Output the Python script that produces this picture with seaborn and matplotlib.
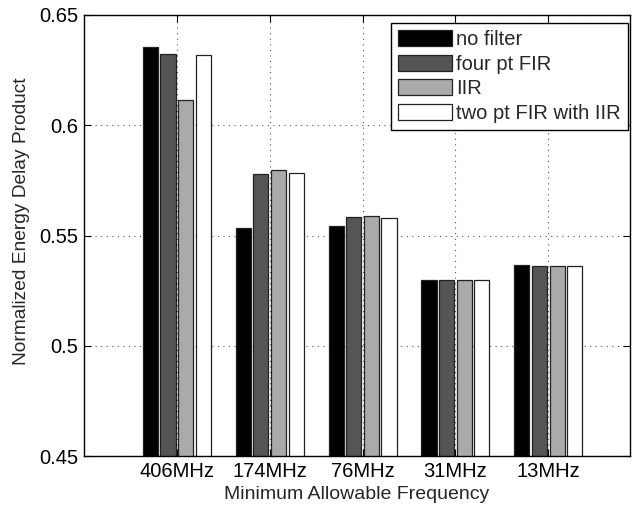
import matplotlib
matplotlib.use("Agg")
import matplotlib.pyplot as plt
import seaborn as sns
import pandas as pd

frequencies = ["406MHz", "174MHz", "76MHz", "31MHz", "13MHz"]
series_names = ["no filter", "four pt FIR", "IIR", "two pt FIR with IIR"]
no_filter = [0.6355, 0.5533, 0.5545, 0.5299, 0.5364]
four_pt_fir = [0.6323, 0.5778, 0.5585, 0.5299, 0.5360]
iir = [0.6113, 0.5795, 0.5590, 0.5299, 0.5360]
two_pt_fir_iir = [0.6318, 0.5783, 0.5578, 0.5299, 0.5360]
yticks = [0.45, 0.5, 0.55, 0.6, 0.65]
ytick_labels = ["0.45", "0.5", "0.55", "0.6", "0.65"]

rows = []
for name, vals in zip(series_names, [no_filter, four_pt_fir, iir, two_pt_fir_iir]):
    for f, v in zip(frequencies, vals):
        rows.append({"freq": f, "series": name, "value": v})
df = pd.DataFrame(rows)

FS = 14.5
sns.set_style("white")
plt.rcParams["font.family"] = ["Liberation Sans", "DejaVu Sans"]
plt.rcParams["font.size"] = FS

fig = plt.figure(figsize=(6.39, 5.08), dpi=100)
ax = fig.add_axes([84/639, 1-456/508, (630-84)/639, (456-15)/508])

palette = {"no filter": "#000000", "four pt FIR": "#555555",
           "IIR": "#aaaaaa", "two pt FIR with IIR": "#ffffff"}
sns.barplot(data=df, x="freq", y="value", hue="series", order=frequencies,
            hue_order=series_names, palette=palette, width=0.76, gap=0.14,
            edgecolor="#222222", linewidth=0.9, saturation=1, errorbar=None, ax=ax)

ax.set_ylim(0.45, 0.65)
ax.set_xlim(-1.0, 4.88)
ax.set_yticks(yticks)
ax.set_yticklabels(ytick_labels)
ax.set_xlabel("Minimum Allowable Frequency", labelpad=4, fontsize=14)
ax.set_ylabel("Normalized Energy Delay Product", labelpad=6.5, fontsize=13.8,
              y=(456-221)/441)

ax.set_axisbelow(True)
ax.grid(True, axis="both", linestyle=(0, (1, 4)), color="#555555", linewidth=0.8)
ax.tick_params(direction="in", length=5, width=0.8, top=True, right=True,
               bottom=True, left=True, colors="black", labelsize=FS, pad=4)
for s in ax.spines.values():
    s.set_visible(True)
    s.set_color("black")
    s.set_linewidth(1.0)

handles, labels = ax.get_legend_handles_labels()
leg = ax.legend(handles, labels, loc="upper right",
                bbox_to_anchor=((628-84)/546, 1-(23-15)/441), borderaxespad=0,
                fancybox=False, frameon=True, edgecolor="black", framealpha=1,
                handlelength=2.7, handleheight=0.85, handletextpad=0.2,
                labelspacing=0.28, borderpad=0.35, fontsize=FS)
leg.get_frame().set_linewidth(1.0)

fig.savefig("out.png", dpi=100)
